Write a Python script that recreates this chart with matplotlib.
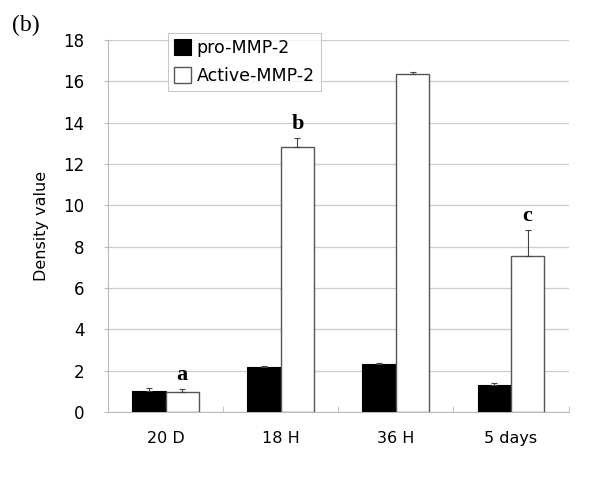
import numpy as np
import matplotlib
matplotlib.use('Agg')
import matplotlib.pyplot as plt

categories = ['20 D', '18 H', '36 H', '5 days']
pro_mmp2 = [1.0, 2.19, 2.33, 1.33]
pro_err = [0.14, 0.04, 0.04, 0.08]
active_mmp2 = [0.98, 12.82, 16.35, 7.55]
active_err = [0.13, 0.42, 0.1, 1.27]
letters = ['a', 'b', '', 'c']

plt.rcParams['font.family'] = ['DejaVu Sans']

fig = plt.figure(figsize=(6.1, 4.78), dpi=100)
ax = fig.add_axes([0.177, 0.138, 0.755, 0.778])

x = np.arange(len(categories))
w = 0.29
ekw = dict(ecolor='#444444', elinewidth=0.8, capsize=2, capthick=0.8)
ax.bar(x - w / 2, pro_mmp2, w, color='black', edgecolor='black', linewidth=0.8,
       yerr=[np.zeros(len(pro_err)), pro_err], error_kw=ekw,
       label='pro-MMP-2', zorder=3)
ax.bar(x + w / 2, active_mmp2, w, color='white', edgecolor='#555555', linewidth=1.0,
       yerr=[np.zeros(len(active_err)), active_err], error_kw=ekw,
       label='Active-MMP-2', zorder=3)

for xi, v, e, t in zip(x, active_mmp2, active_err, letters):
    if t:
        ax.text(xi + w / 2, v + e + 0.2, t, ha='center', va='bottom', fontsize=16,
                fontweight='bold', family='Liberation Serif')

ax.set_xlim(-0.5, len(categories) - 0.5)
ax.set_ylim(0, 18)
ax.set_yticks(range(0, 19, 2))
ax.set_xticks(x)
ax.set_xticklabels(categories, fontsize=11.5)
ax.set_xticks(np.arange(0.5, len(categories), 1), minor=True)
ax.tick_params(axis='x', which='major', length=0, pad=14)
ax.tick_params(axis='x', which='minor', direction='in', length=4, color='#bbbbbb')
ax.tick_params(axis='y', labelsize=12, length=3, color='#bbbbbb', pad=14)
ax.yaxis.grid(True, color='#cccccc', linewidth=0.9, zorder=0)
ax.set_axisbelow(True)
for s in ['top', 'right']:
    ax.spines[s].set_visible(False)
ax.spines['left'].set_color('#bbbbbb')
ax.spines['bottom'].set_color('#bbbbbb')
ax.set_ylabel('Density value', fontsize=11.5, labelpad=10)

leg = ax.legend(loc='upper left', bbox_to_anchor=(0.13, 1.02), fontsize=12.5, frameon=True,
                fancybox=False, edgecolor='#bbbbbb', handlelength=1.0, handleheight=1.0,
                handletextpad=0.3, borderpad=0.35, labelspacing=0.6, borderaxespad=0)
leg.get_frame().set_linewidth(0.8)

fig.text(0.02, 0.935, '(b)', fontsize=17, family='Liberation Serif')

fig.savefig('out.png', dpi=100)
